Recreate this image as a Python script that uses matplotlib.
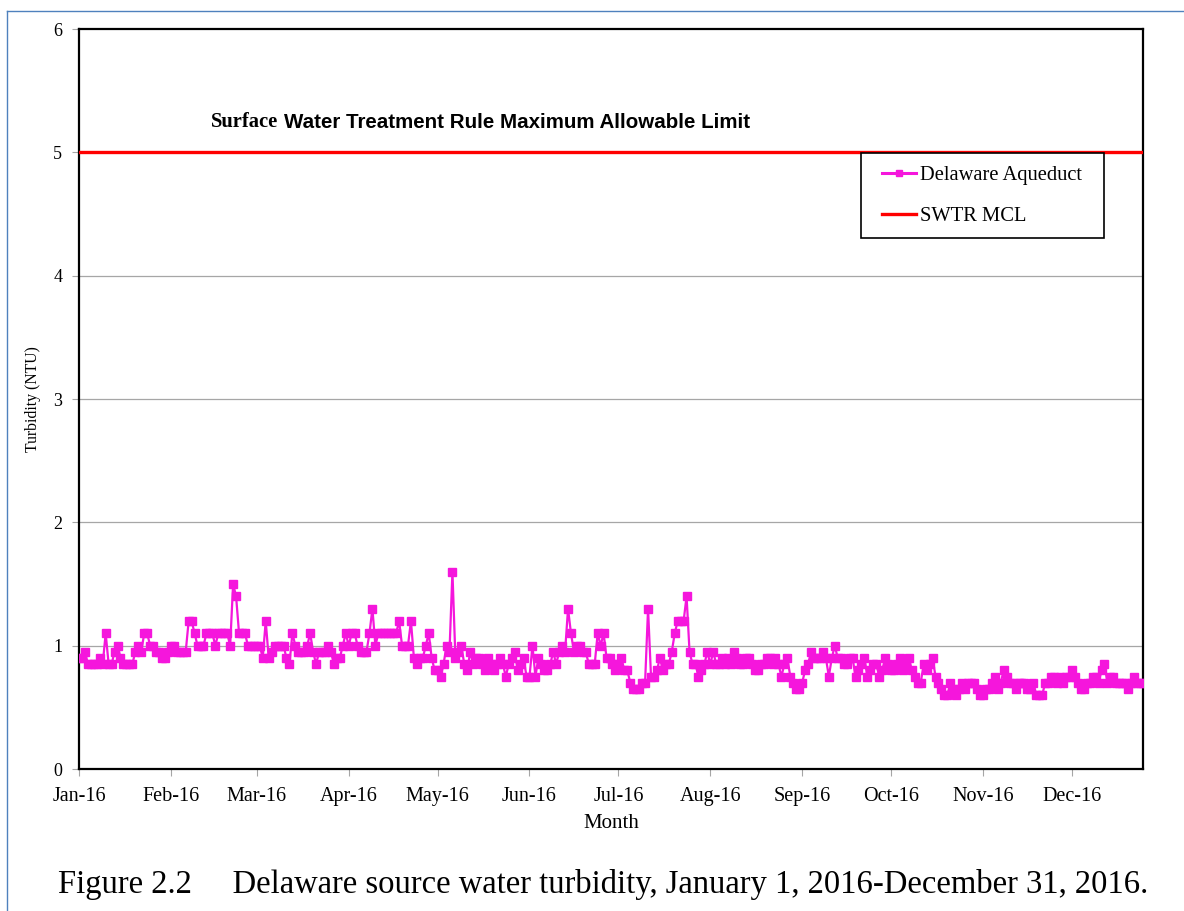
import matplotlib
matplotlib.use("Agg")
import matplotlib.pyplot as plt
from matplotlib.lines import Line2D
from matplotlib.legend_handler import HandlerLine2D
import pandas as pd

# ---------------- data ----------------
start_date = "2016-01-01"
jan = [0.9, 0.9, 0.95, 0.85, 0.85, 0.85, 0.85, 0.9, 0.85, 1.1, 0.85, 0.85, 0.95, 1.0, 0.9, 0.85,
       0.85, 0.85, 0.85, 0.95, 1.0, 0.95, 1.1, 1.1, 1.0, 1.0, 0.95, 0.95, 0.9, 0.9, 0.95]
feb = [1.0, 1.0, 0.95, 0.95, 0.95, 0.95, 1.2, 1.2, 1.1, 1.0, 1.0, 1.0, 1.1, 1.1, 1.1, 1.0,
       1.1, 1.1, 1.1, 1.1, 1.0, 1.5, 1.4, 1.1, 1.1, 1.1, 1.0, 1.0, 1.0]
mar = [1.0, 1.0, 0.9, 1.2, 0.9, 0.95, 1.0, 1.0, 1.0, 1.0, 0.9, 0.85, 1.1, 1.0, 0.95, 0.95,
       0.95, 1.0, 1.1, 0.95, 0.85, 0.95, 0.95, 0.95, 1.0, 0.95, 0.85, 0.9, 0.9, 1.0, 1.1]
apr = [1.0, 1.1, 1.1, 1.0, 0.95, 0.95, 0.95, 1.1, 1.3, 1.0, 1.1, 1.1, 1.1, 1.1, 1.1, 1.1,
       1.1, 1.2, 1.0, 1.0, 1.0, 1.2, 0.9, 0.85, 0.9, 0.9, 1.0, 1.1, 0.9, 0.8]
may = [0.8, 0.75, 0.85, 1.0, 0.95, 1.6, 0.9, 0.95, 1.0, 0.85, 0.8, 0.95, 0.85, 0.9, 0.9, 0.85,
       0.8, 0.9, 0.85, 0.8, 0.85, 0.9, 0.85, 0.75, 0.85, 0.9, 0.95, 0.8, 0.85, 0.9, 0.75]
jun = [0.75, 1.0, 0.75, 0.9, 0.85, 0.8, 0.8, 0.85, 0.95, 0.85, 0.95, 1.0, 0.95, 1.3, 1.1, 0.95,
       1.0, 1.0, 0.95, 0.95, 0.85, 0.85, 0.85, 1.1, 1.0, 1.1, 0.9, 0.9, 0.85, 0.8]
jul = [0.85, 0.9, 0.8, 0.8, 0.7, 0.65, 0.65, 0.65, 0.7, 0.7, 1.3, 0.75, 0.75, 0.8, 0.9, 0.8,
       0.85, 0.85, 0.95, 1.1, 1.2, 1.2, 1.2, 1.4, 0.95, 0.85, 0.85, 0.75, 0.8, 0.85, 0.95]
aug = [0.85, 0.95, 0.85, 0.85, 0.9, 0.85, 0.9, 0.85, 0.95, 0.9, 0.85, 0.85, 0.9, 0.9, 0.85, 0.8,
       0.8, 0.85, 0.85, 0.9, 0.9, 0.85, 0.9, 0.85, 0.75, 0.85, 0.9, 0.75, 0.7, 0.65, 0.65]
sep = [0.7, 0.8, 0.85, 0.95, 0.9, 0.9, 0.9, 0.95, 0.9, 0.75, 0.9, 1.0, 0.9, 0.9, 0.85, 0.85,
       0.9, 0.9, 0.75, 0.8, 0.85, 0.9, 0.75, 0.8, 0.85, 0.85, 0.75, 0.8, 0.9, 0.85]
oct_ = [0.8, 0.8, 0.85, 0.9, 0.8, 0.85, 0.9, 0.8, 0.75, 0.7, 0.7, 0.85, 0.8, 0.85, 0.9, 0.75,
        0.7, 0.65, 0.6, 0.6, 0.7, 0.65, 0.6, 0.65, 0.7, 0.65, 0.7, 0.7, 0.7, 0.65, 0.6]
nov = [0.6, 0.65, 0.65, 0.7, 0.75, 0.65, 0.7, 0.8, 0.75, 0.7, 0.7, 0.65, 0.7, 0.7, 0.7, 0.65,
       0.65, 0.7, 0.6, 0.6, 0.6, 0.7, 0.7, 0.75, 0.75, 0.7, 0.75, 0.7, 0.75, 0.75]
dec = [0.8, 0.75, 0.7, 0.65, 0.65, 0.7, 0.7, 0.75, 0.75, 0.7, 0.8, 0.85, 0.7, 0.75, 0.75, 0.7,
       0.7, 0.7, 0.7, 0.65, 0.7, 0.75, 0.7, 0.7, 0.7]
turbidity = jan + feb + mar + apr + may + jun + jul + aug + sep + oct_ + nov + dec
mcl_value = 5.0

month_ticks = ["2016-01-01", "2016-02-01", "2016-03-01", "2016-04-01", "2016-05-01", "2016-06-01",
               "2016-07-01", "2016-08-01", "2016-09-01", "2016-10-01", "2016-11-01", "2016-12-01"]
month_labels = ["Jan-16", "Feb-16", "Mar-16", "Apr-16", "May-16", "Jun-16",
                "Jul-16", "Aug-16", "Sep-16", "Oct-16", "Nov-16", "Dec-16"]
y_ticks = [0, 1, 2, 3, 4, 5, 6]
series_labels = ["Delaware Aqueduct", "SWTR MCL"]

# ---------------- figure ----------------
W, H = 1184, 911
fig = plt.figure(figsize=(W / 100, H / 100), dpi=100)
serif = ["Liberation Serif", "DejaVu Serif"]
sans = ["Liberation Sans", "DejaVu Sans"]
pink = "#F516DC"

ax = fig.add_axes([79 / W, 1 - 769 / H, (1143 - 79) / W, (769 - 29) / H])

dates = pd.date_range(start_date, periods=len(turbidity), freq="D")
for y in [1, 2, 3, 4]:
    ax.axhline(y, color="#A6A6A6", lw=0.9, zorder=1)
ax.axhline(mcl_value, color="#FF0000", lw=2.4, zorder=3)
ax.plot(dates, turbidity, color=pink, lw=1.6, marker="s", ms=5.6,
        mec=pink, mfc=pink, zorder=4)

ax.set_xlim(dates[0], dates[-1])
ax.set_ylim(0, 6)
ax.set_yticks(y_ticks)
ax.set_yticklabels([str(v) for v in y_ticks], fontfamily=serif, fontsize=13)
ax.set_xticks(pd.to_datetime(month_ticks))
ax.set_xticklabels(month_labels, fontfamily=serif, fontsize=14.5)
ax.tick_params(axis="x", direction="out", length=5, width=0.8, color="#A6A6A6", pad=8)
ax.tick_params(axis="y", direction="out", length=5, width=0.8, color="#A6A6A6", pad=7)
for s in ax.spines.values():
    s.set_color("black")
    s.set_linewidth(1.6)

ax.set_xlabel("Month", fontfamily=serif, fontsize=15, labelpad=6)
ax.set_ylabel("Turbidity (NTU)", fontfamily=serif, fontsize=11.3, labelpad=9)

# legend
leg_fs = 14.8
handles = [Line2D([], [], color=pink, lw=2.2, marker="s", ms=4.5),
           Line2D([], [], color="#FF0000", lw=2.4)]
leg = ax.legend(handles, [series_labels[0] + "  ", series_labels[1]], loc="upper left",
                bbox_to_anchor=(861 / W, 1 - 153 / H), bbox_transform=fig.transFigure,
                prop={"family": serif, "size": leg_fs}, frameon=True, fancybox=False,
                edgecolor="black", framealpha=1, borderpad=0.6, labelspacing=1.05,
                handlelength=2.08, handletextpad=0.18, borderaxespad=0,
                handler_map={Line2D: HandlerLine2D(xpad=0.42)})
leg.get_frame().set_linewidth(1.2)

# in-plot title
fig.text(211 / W, 1 - 122 / H, "Surface", fontfamily=serif, fontweight="bold",
         fontsize=14.8, va="center", ha="left")
fig.text(284 / W, 1 - 122 / H, "Water Treatment Rule Maximum Allowable Limit",
         fontfamily=sans, fontweight="bold", fontsize=14.8, va="center", ha="left")

# caption
fig.text(58 / W, 1 - 885 / H,
         "Figure 2.2     Delaware source water turbidity, January 1, 2016-December 31, 2016.",
         fontfamily=serif, fontsize=23.5, va="center", ha="left")

# outer blue frame
frame_color = "#4F81BD"
fig.add_artist(Line2D([7 / W, 7 / W], [1 - 11 / H, 0], color=frame_color, lw=1.0,
                      transform=fig.transFigure))
fig.add_artist(Line2D([7 / W, 1], [1 - 11 / H, 1 - 11 / H], color=frame_color, lw=1.0,
                      transform=fig.transFigure))

fig.savefig("out.png", dpi=100)
